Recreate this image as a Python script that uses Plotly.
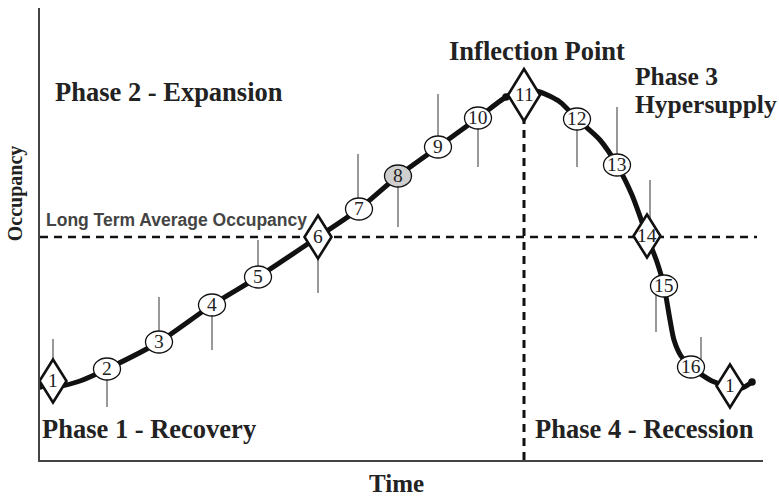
import plotly.graph_objects as go

# ---------------- data (time / occupancy in arbitrary units) ----------------
curve_time = [0.0, 2.0, 4.0, 6.7, 11.9, 17.2, 21.8, 27.8, 31.9, 35.8, 39.8, 43.8, 46.6,
              48.4, 50.0, 52.0, 53.7, 56.0, 57.7, 59.2, 60.7, 61.7, 62.4, 63.0, 63.4,
              64.1, 65.1, 67.2, 69.0, 70.2, 71.2]
curve_occ = [7.4, 7.4, 7.9, 9.1, 11.8, 15.5, 18.3, 22.3, 25.1, 28.4, 31.3, 34.2, 36.3,
             37.0, 36.8, 35.8, 34.1, 32.0, 29.5, 26.5, 22.4, 19.8, 17.4, 14.0, 12.0,
             10.4, 9.3, 7.9, 7.3, 7.2, 7.8]

point_labels = ["1", "2", "3", "4", "5", "6", "7", "8", "9", "10", "11", "12", "13",
                "14", "15", "16", "1"]
point_time = [1.3, 6.7, 11.9, 17.2, 21.8, 27.8, 31.9, 35.8, 39.8, 43.8, 48.4, 53.7,
              57.7, 60.7, 62.4, 65.1, 69.0]
point_occ = [7.9, 9.1, 11.8, 15.5, 18.3, 22.3, 25.1, 28.4, 31.3, 34.2, 36.5, 34.1,
             29.5, 22.4, 17.4, 9.3, 7.4]
point_kind = ["diamond", "ellipse", "ellipse", "ellipse", "ellipse", "diamond",
              "ellipse", "shaded", "ellipse", "ellipse", "peak", "ellipse", "ellipse",
              "diamond", "ellipse", "ellipse", "diamond"]

# thin marker stems: x position and the occupancy value where the stem ends
stem_time = [1.3, 6.7, 11.9, 17.2, 21.8, 27.8, 31.8, 35.8, 39.8, 43.8, None, 53.7,
             57.7, 61.0, 61.6, 66.1, None]
stem_end = [12.1, 5.3, 16.3, 11.0, 22.0, 16.7, 30.6, 23.3, 36.6, 29.3, None, 29.3,
            35.3, 28.0, 12.8, 12.3, None]

long_term_avg = 22.3
inflection_time = 48.4
x_max, y_max = 72.3, 45.2

# ---------------- figure ----------------
fig = go.Figure()

# average occupancy (horizontal dashed)
fig.add_trace(go.Scatter(x=[0, 71.7], y=[long_term_avg, long_term_avg], mode="lines",
                         line=dict(color="#111", width=2.5, dash="8px,6px"),
                         hoverinfo="skip", showlegend=False))
# inflection vertical dashed
fig.add_trace(go.Scatter(x=[inflection_time, inflection_time], y=[0, point_occ[10]],
                         mode="lines", line=dict(color="#111", width=3, dash="8px,6px"),
                         hoverinfo="skip", showlegend=False))

# stems
sx, sy = [], []
for t, e, o in zip(stem_time, stem_end, point_occ):
    if t is None:
        continue
    sx += [t, t, None]
    sy += [e, o, None]
fig.add_trace(go.Scatter(x=sx, y=sy, mode="lines", line=dict(color="#444", width=1.1),
                         hoverinfo="skip", showlegend=False))

# cycle curve
fig.add_trace(go.Scatter(x=curve_time, y=curve_occ, mode="lines",
                         line=dict(color="#111", width=5, shape="spline", smoothing=0.7),
                         hoverinfo="skip", showlegend=False))
fig.add_trace(go.Scatter(x=[curve_time[0], curve_time[12], curve_time[-1]],
                         y=[curve_occ[0], curve_occ[12], curve_occ[-1]], mode="markers",
                         marker=dict(color="#111", size=7.5),
                         hoverinfo="skip", showlegend=False))

# markers as pixel-sized shapes anchored to the data values
shapes = []
for t, o, k in zip(point_time, point_occ, point_kind):
    if k in ("diamond", "peak"):
        hw, hh = (16, 26) if k == "peak" else (13.5, 21.5)
        shapes.append(dict(type="path", xref="x", yref="y", xsizemode="pixel",
                           ysizemode="pixel", xanchor=t, yanchor=o,
                           path=f"M 0 {hh} L {hw} 0 L 0 {-hh} L {-hw} 0 Z",
                           fillcolor="white", line=dict(color="#111", width=2.6),
                           layer="above"))
    else:
        shapes.append(dict(type="circle", xref="x", yref="y", xsizemode="pixel",
                           ysizemode="pixel", xanchor=t, yanchor=o,
                           x0=-13.5, x1=13.5, y0=-11, y1=11,
                           fillcolor="#cfcfcf" if k == "shaded" else "white",
                           line=dict(color="#111", width=1.3), layer="above"))

serif = "Liberation Serif, Times New Roman, serif"
ann = []
for t, o, lab in zip(point_time, point_occ, point_labels):
    ann.append(dict(x=t, y=o, xref="x", yref="y", text=lab, showarrow=False,
                    font=dict(family=serif, size=19.5, color="#222"), yshift=1))

def label(text, x, y, size=26.5, xanchor="center", ref="data", family=serif,
          color="#222", angle=0, bold=True):
    d = dict(text=f"<b>{text}</b>" if bold else text, x=x, y=y, showarrow=False,
             xanchor=xanchor, yanchor="middle", textangle=angle,
             font=dict(family=family, size=size, color=color))
    if ref == "data":
        d.update(xref="x", yref="y")
    else:
        d.update(xref="paper", yref="paper")
    return d

ann += [
    label("Phase 2 - Expansion", 12.9, 36.8),
    label("Inflection Point", 49.65, 40.9),
    label("Phase 3", 59.3, 38.4, size=25.5, xanchor="left"),
    label("Hypersupply", 59.3, 35.6, size=25.5, xanchor="left"),
    label("Long Term Average Occupancy", 13.65, 24.0, size=17.5,
          family="Liberation Sans, Arial, sans-serif", color="#444"),
    label("Phase 1 - Recovery", 10.9, 3.1),
    label("Phase 4 - Recession", 60.45, 3.1),
    label("Time", 0.4924, -0.053, size=25, ref="paper"),
    label("Occupancy", -0.0346, 0.59, size=20, ref="paper", angle=-90),
]

fig.update_layout(
    width=779, height=498,
    margin=dict(l=40, r=16, t=8, b=38),
    paper_bgcolor="white", plot_bgcolor="white",
    xaxis=dict(range=[0, x_max], showgrid=False, zeroline=False, showticklabels=False,
               ticks="", showline=True, linecolor="#444", linewidth=1.5),
    yaxis=dict(range=[0, y_max], showgrid=False, zeroline=False, showticklabels=False,
               ticks="", showline=True, linecolor="#444", linewidth=1.5),
    shapes=shapes, annotations=ann, showlegend=False,
)

fig.write_html("out.html", config={"displayModeBar": False},
               post_script="document.body.style.margin='0';document.body.style.overflow='hidden';")
